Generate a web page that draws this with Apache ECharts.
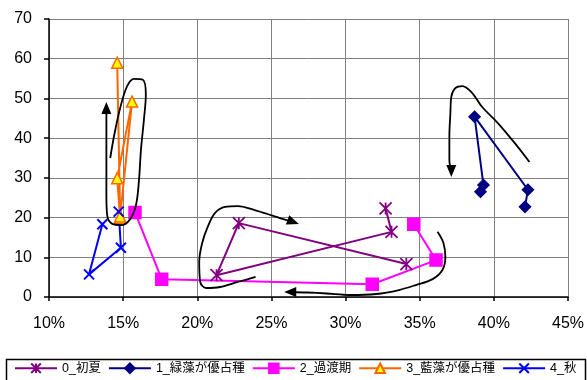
<!DOCTYPE html>
<html><head><meta charset="utf-8">
<script src="https://cdn.jsdelivr.net/npm/echarts@6/dist/echarts.min.js"></script>
<style>html,body{margin:0;padding:0;background:#fff}#c{width:587px;height:380px}</style>
</head><body><div id="c"></div>
<script>
// ---- data ----
const seriesNames = ['0_初夏', '1_緑藻が優占種', '2_過渡期', '3_藍藻が優占種', '4_秋'];
const s0 = [[32.7, 22.3], [33.1, 16.4], [21.3, 5.5], [22.8, 18.6], [34.1, 8.3]];
const s1 = [[39.1, 26.5], [39.3, 28.2], [38.7, 45.4], [42.3, 27.0], [42.1, 22.7]];
const s2 = [[34.6, 18.3], [36.1, 9.3], [31.8, 3.2], [17.6, 4.5], [15.8, 21.3]];
const s3 = [[14.8, 19.8], [14.6, 29.9], [15.6, 49.2], [14.8, 20.3], [14.6, 59.0]];
const s4 = [[14.7, 21.5], [14.85, 12.4], [12.7, 5.7], [13.6, 18.3]];
const xTickValues = [10, 15, 20, 25, 30, 35, 40, 45];
const yTickValues = [0, 10, 20, 30, 40, 50, 60, 70];

// hand-drawn annotation strokes (data coordinates), last point = arrow head
const annoLoopA = [[14.13, 35.0], [14.4, 40.8], [14.8, 47.6], [15.27, 53.1], [15.73, 54.9], [16.33, 54.7], [16.53, 50.9], [16.4, 44.6], [16.2, 37.0], [16.07, 29.5], [15.87, 23.2], [15.47, 19.6], [14.87, 18.1], [14.27, 18.4], [13.93, 20.4], [13.87, 25.7], [13.87, 37.0], [13.87, 47.6]];
const annoLoopB = [[23.93, 5.04], [22.73, 3.78], [21.53, 2.52], [20.6, 2.27], [20.2, 3.78], [20.13, 8.8], [20.33, 13.6], [20.73, 17.9], [21.2, 21.2], [21.87, 22.7], [22.73, 22.9], [23.87, 21.9], [25.07, 20.5], [25.8, 19.6], [26.47, 18.9]];
const annoLoopC = [[36.2, 16.4], [36.6, 13.6], [36.73, 10.1], [36.53, 6.8], [35.87, 4.5], [34.73, 3.0], [33.6, 1.76], [32.07, 0.76], [30.27, 0.5], [28.73, 0.88], [27.4, 1.13], [26.27, 1.26]];
const annoLoopD = [[42.4, 34.0], [41.4, 38.8], [40.27, 43.8], [39.2, 47.9], [38.53, 51.4], [37.87, 53.1], [37.4, 52.6], [37.13, 50.4], [37.07, 46.3], [37.0, 40.3], [37.0, 34.5], [37.13, 31.7]];
const annoArrowRot = [0, -110, 90, 180];

// ---- styles ----
const asterisk = 'path://M0,0L10,10M10,0L0,10M5,0L5,10';
const cross = 'path://M0,0L10,10M10,0L0,10';
const FONT = '"Liberation Sans", Arial, "Noto Sans CJK JP", sans-serif';

function dataSeries(name, data, color, symbol, size, extra) {
  return Object.assign({
    type: 'line', name: name, data: data, symbol: symbol, symbolSize: size,
    lineStyle: { color: color, width: 2 },
    itemStyle: { color: color, borderColor: color, borderWidth: 1.5 },
    emphasis: { disabled: true }, animation: false, z: 3
  }, extra || {});
}

function annoSeries(pts, rot, idx) {
  const d = pts.map((p, i) => i === pts.length - 1
    ? { value: p, symbol: 'triangle', symbolSize: [10, 12], symbolRotate: rot, itemStyle: { color: '#000', borderWidth: 0 } }
    : { value: p });
  return {
    type: 'line', name: 'anno' + idx, data: d, symbol: 'none', smooth: 0.35,
    lineStyle: { color: '#000', width: 1.8 }, silent: true, animation: false, z: 5,
    emphasis: { disabled: true }
  };
}

const series = [
  dataSeries(seriesNames[0], s0, '#800080', asterisk, 12, { itemStyle: { color: '#800080', borderColor: '#800080', borderWidth: 1.8 } }),
  dataSeries(seriesNames[1], s1, '#000080', 'diamond', 11),
  dataSeries(seriesNames[2], s2, '#FF00FF', 'rect', 12),
  dataSeries(seriesNames[3], s3, '#FF6600', 'triangle', 11, { itemStyle: { color: '#FFFF00', borderColor: '#FF6600', borderWidth: 1.5 } }),
  dataSeries(seriesNames[4], s4, '#0000FF', cross, 10, { itemStyle: { color: '#0000FF', borderColor: '#0000FF', borderWidth: 2 } })
];
[annoLoopA, annoLoopB, annoLoopC, annoLoopD].forEach((p, i) => series.push(annoSeries(p, annoArrowRot[i], i)));

const chart = echarts.init(document.getElementById('c'), null, { renderer: 'canvas' });
chart.setOption({
  animation: false,
  backgroundColor: '#fff',
  textStyle: { fontFamily: FONT },
  grid: { left: 49, right: 13, top: 19, bottom: 83, containLabel: false },
  xAxis: {
    type: 'value', min: xTickValues[0], max: xTickValues[xTickValues.length - 1], interval: 5,
    axisLine: { show: true, onZero: false, lineStyle: { color: '#000', width: 1.5 } },
    axisTick: { show: true, length: 4, lineStyle: { color: '#000', width: 1.5 } },
    axisLabel: { formatter: '{value}%', color: '#000', fontSize: 16, margin: 19, fontFamily: FONT },
    splitLine: { show: true, lineStyle: { color: '#808080', width: 1 } }
  },
  yAxis: {
    type: 'value', min: yTickValues[0], max: yTickValues[yTickValues.length - 1], interval: 10,
    axisLine: { show: true, lineStyle: { color: '#000', width: 1.5 } },
    axisTick: { show: true, length: 5, lineStyle: { color: '#000', width: 1.5 } },
    axisLabel: { color: '#000', fontSize: 16, margin: 17, fontFamily: FONT },
    splitLine: { show: true, lineStyle: { color: '#808080', width: 1 } }
  },
  legend: {
    data: seriesNames, left: 9, right: 0, top: 362, padding: [0, 5], itemGap: 7,
    itemWidth: 42, itemHeight: 12, selectedMode: false,
    textStyle: { fontSize: 12.5, color: '#000', fontFamily: FONT }
  },
  graphic: [{
    type: 'rect', left: 4, top: 357, z: 10,
    shape: { width: 579, height: 30 },
    style: { fill: 'none', stroke: '#000', lineWidth: 1.5 }
  }],
  series: series
});
</script></body></html>
